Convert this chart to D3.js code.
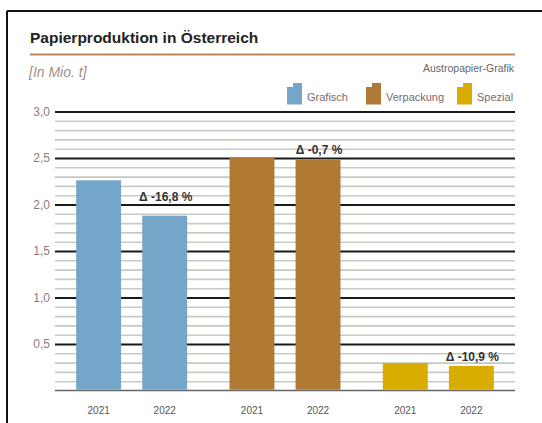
<!DOCTYPE html>
<html>
<head>
<meta charset="utf-8">
<script src="https://cdn.jsdelivr.net/npm/d3@7"></script>
<style>
  body { margin: 0; background: #fff; }
  svg { display: block; }
  .narrow { font-family: "Liberation Sans Narrow", "Liberation Sans", Arial, sans-serif; }
</style>
</head>
<body>
<svg id="chart" width="542" height="423"></svg>
<script>
// Daten (Mio. t)
const categories = ["Grafisch", "Verpackung", "Spezial"];
const years = ["2021", "2022"];
const values2021 = [2.26, 2.50, 0.296];
const values2022 = [1.88, 2.48, 0.264];
const deltaLabels = ["Δ -16,8 %", "Δ -0,7 %", "Δ -10,9 %"];
const colors = ["#74a6c9", "#b07a34", "#d9ad00"];
const majorTicks = [0.5, 1.0, 1.5, 2.0, 2.5, 3.0];

const svg = d3.select("#chart");
const margin = { left: 55, right: 27, top: 111.5, bottom: 32.5 };
const W = 542, H = 423;

// Rahmen
svg.append("line").attr("x1", 7).attr("x2", W).attr("y1", 11).attr("y2", 11)
  .attr("stroke", "#111").attr("stroke-width", 2);
svg.append("line").attr("x1", 7).attr("x2", 7).attr("y1", 11).attr("y2", H)
  .attr("stroke", "#111").attr("stroke-width", 2);

// Titel
svg.append("text")
  .attr("x", 30).attr("y", 43)
  .attr("font-family", "'Liberation Sans', Arial, sans-serif")
  .attr("font-weight", "bold").attr("font-size", 15.5)
  .attr("fill", "#222")
  .text("Papierproduktion in Österreich");
svg.append("line").attr("x1", 30).attr("x2", 515).attr("y1", 54.5).attr("y2", 54.5)
  .attr("stroke", "#b58a58").attr("stroke-width", 2);

svg.append("text").attr("class", "narrow")
  .attr("x", 29).attr("y", 77)
  .attr("font-style", "italic").attr("font-size", 14)
  .attr("fill", "#a0908a")
  .text("[In Mio. t]");
svg.append("text").attr("class", "narrow")
  .attr("x", 514).attr("y", 72).attr("text-anchor", "end")
  .attr("font-size", 10.5).attr("fill", "#666")
  .text("Austropapier-Grafik");

// Skalen
const y = d3.scaleLinear().domain([0, 3]).range([H - margin.bottom, margin.top]);
const x0 = d3.scalePoint().domain(categories).range([margin.left, W - margin.right]).padding(0.5);
const x1 = d3.scaleBand().domain(years).range([-55.5, 55.5]).paddingInner(0.32);

const de = d3.formatLocale({ decimal: ",", thousands: ".", grouping: [3], currency: ["", " €"] });

// Nebengitter (0,1-Schritte)
const minorTicks = d3.range(1, 30).map(d => d / 10).filter(d => Math.abs(d * 2 - Math.round(d * 2)) > 1e-6);
svg.append("g")
  .attr("transform", `translate(${margin.left},0)`)
  .call(d3.axisLeft(y).tickValues(minorTicks).tickSize(-(W - margin.left - margin.right)).tickFormat(""))
  .call(g => g.select(".domain").remove())
  .call(g => g.selectAll(".tick line").attr("stroke", "#c9c9c1").attr("stroke-width", 1.6));

// Hauptgitter
svg.append("g")
  .attr("transform", `translate(${margin.left},0)`)
  .call(d3.axisLeft(y).tickValues(majorTicks).tickSize(-(W - margin.left - margin.right))
    .tickPadding(5).tickFormat(de.format(".1f")))
  .call(g => g.select(".domain").remove())
  .call(g => g.selectAll(".tick line").attr("stroke", "#1a1a1a").attr("stroke-width", 1.8))
  .call(g => g.selectAll(".tick text")
    .attr("class", "narrow").attr("font-size", 12).attr("fill", "#8c7e78"));

// Nulllinie
svg.append("line")
  .attr("x1", margin.left).attr("x2", W - margin.right)
  .attr("y1", y(0)).attr("y2", y(0))
  .attr("stroke", "#666").attr("stroke-width", 1.6);

// Balken
const rows = categories.map((c, i) => ({
  cat: c, color: colors[i], delta: deltaLabels[i],
  vals: [{ year: years[0], v: values2021[i] }, { year: years[1], v: values2022[i] }]
}));
const labelLift = [15, 6, 5];

const grp = svg.append("g").selectAll("g").data(rows).join("g")
  .attr("transform", d => `translate(${x0(d.cat)},0)`);

grp.selectAll("rect").data(d => d.vals.map(v => ({ ...v, color: d.color }))).join("rect")
  .attr("x", d => x1(d.year))
  .attr("width", x1.bandwidth())
  .attr("y", d => y(d.v))
  .attr("height", d => y(0) - y(d.v) - 0.8)
  .attr("fill", d => d.color);

grp.selectAll("text.year").data(d => d.vals).join("text")
  .attr("class", "year narrow")
  .attr("x", d => x1(d.year) + x1.bandwidth() / 2)
  .attr("y", 414)
  .attr("text-anchor", "middle")
  .attr("font-size", 10).attr("fill", "#555")
  .text(d => d.year);

grp.append("text")
  .attr("class", "narrow")
  .attr("x", x1(years[1]) + x1.bandwidth() / 2 + 1)
  .attr("y", (d, i) => y(d.vals[1].v) - labelLift[i])
  .attr("text-anchor", "middle")
  .attr("font-weight", "bold").attr("font-size", 12)
  .attr("fill", "#333")
  .text(d => d.delta);

// Legende
const legendX = [287, 366, 457];
const leg = svg.append("g").selectAll("g").data(rows).join("g")
  .attr("transform", (d, i) => `translate(${legendX[i]},83)`);
leg.append("path")
  .attr("d", "M0,4 L6,4 L6,0 L15,0 L15,21.5 L0,21.5 Z")
  .attr("fill", d => d.color);
leg.append("text")
  .attr("class", "narrow")
  .attr("x", 20).attr("y", 18)
  .attr("font-size", 11).attr("fill", "#7a6a6c")
  .text(d => d.cat);
</script>
</body>
</html>
